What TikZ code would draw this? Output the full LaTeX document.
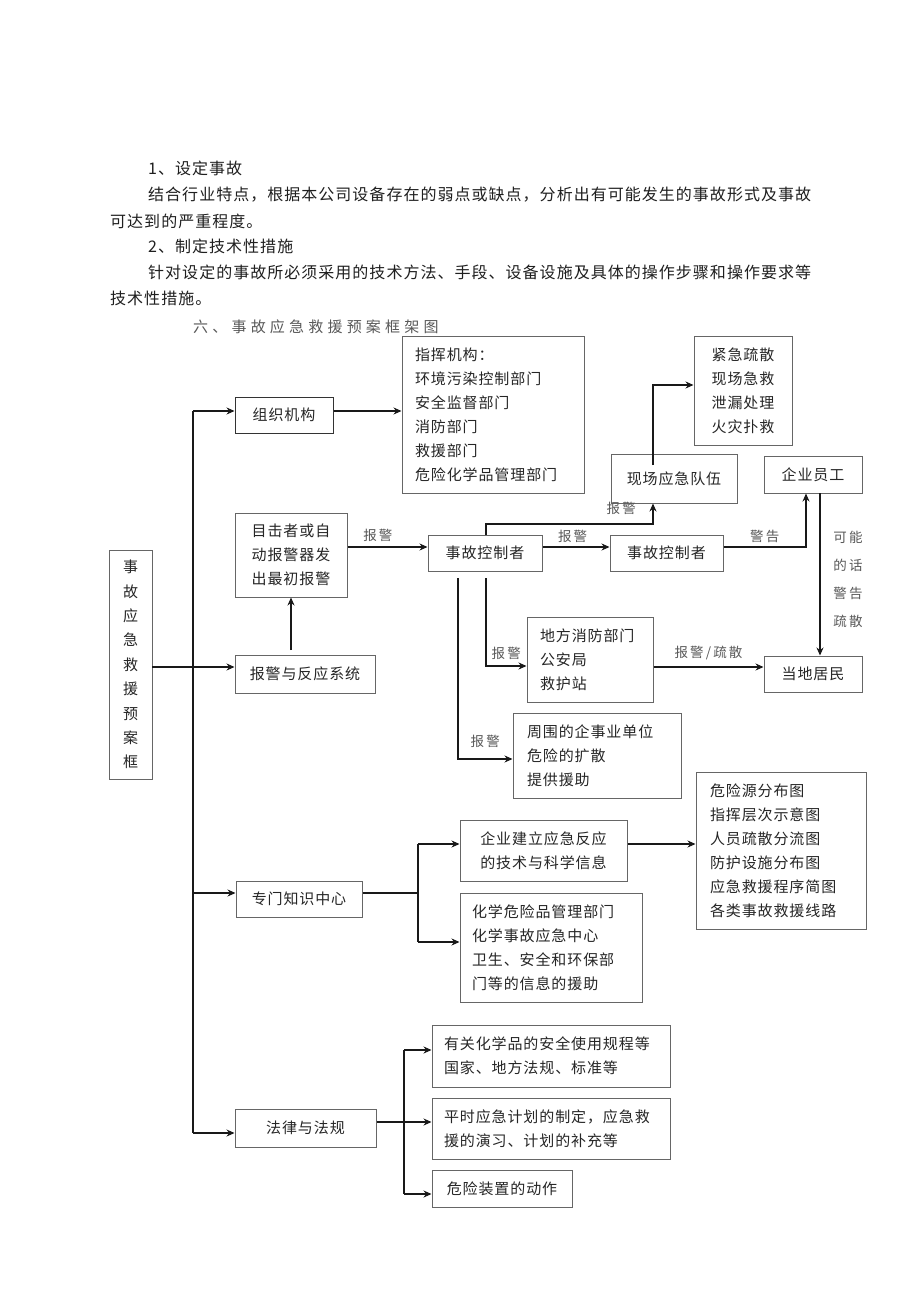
\documentclass[tikz,border=0pt]{standalone}
\usepackage{fontspec}
\setmainfont{Noto Sans CJK SC}
\usetikzlibrary{arrows.meta}
\newcommand\bodyfont{\fontsize{16}{20}\selectfont\addfontfeature{LetterSpace=6.4}}
\newcommand\titlefont{\fontsize{15}{20}\selectfont\addfontfeature{LetterSpace=28}}
\newcommand\dfont{\fontsize{15}{24}\selectfont\addfontfeature{LetterSpace=6}}
\newcommand\vfont{\fontsize{15}{24.4}\selectfont}
\newcommand\lfont{\fontsize{13.5}{28}\selectfont\addfontfeature{LetterSpace=16}}
\tikzset{
  box/.style={draw=black!60, line width=1pt, inner sep=0pt, text=black!85, font=\dfont},
  cbox/.style={box, align=center},
  lbox/.style={box, align=left},
  arr/.style={-{Stealth[length=8pt,width=7pt]}, line width=1.5pt, black!90},
  ln/.style={line width=1.5pt, black!90},
  lab/.style={font=\lfont, text=black!65, inner sep=0pt},
  para/.style={anchor=west, inner sep=0pt, text=black!88, font=\bodyfont},
}
\begin{document}
\begin{tikzpicture}[x=1pt,y=-1pt]
\useasboundingbox[fill=white] (0,0) rectangle (920,1301);

% body text
\node[para] (p1) at (148,168) {1、设定事故};
\node[para] (p2) at (148,195) {结合行业特点，根据本公司设备存在的弱点或缺点，分析出有可能发生的事故形式及事故};
\node[para] (p3) at (110,221) {可达到的严重程度。};
\node[para] (p4) at (148,246) {2、制定技术性措施};
\node[para] (p5) at (148,272) {针对设定的事故所必须采用的技术方法、手段、设备设施及具体的操作步骤和操作要求等};
\node[para] (p6) at (110,298) {技术性措施。};
\node[para, font=\titlefont, text=black!65] (title) at (193,327) {六、事故应急救援预案框架图};

% boxes
\node[cbox, minimum width=43, minimum height=229, font=\vfont] (frame) at (130.5,664.5) {事\\故\\应\\急\\救\\援\\预\\案\\框};
\node[cbox, draw=black!80, minimum width=98, minimum height=36] (zzjg) at (284,415) {组织机构};
\node[lbox, minimum width=182, minimum height=157, text width=156, inner xsep=13] (zhjg) at (493,414.5) {指挥机构：\\环境污染控制部门\\安全监督部门\\消防部门\\救援部门\\危险化学品管理部门};
\node[cbox, minimum width=98, minimum height=109] (jjss) at (743,390.5) {紧急疏散\\现场急救\\泄漏处理\\火灾扑救};
\node[cbox, minimum width=126, minimum height=49] (xcyj) at (674,478.5) {现场应急队伍};
\node[cbox, minimum width=98, minimum height=37] (qyyg) at (813,474.5) {企业员工};
\node[cbox, minimum width=112, minimum height=84] (mjz) at (291,555) {目击者或自\\动报警器发\\出最初报警};
\node[cbox, minimum width=114, minimum height=36] (skz1) at (485,553) {事故控制者};
\node[cbox, minimum width=113, minimum height=36] (skz2) at (666.5,553) {事故控制者};
\node[cbox, minimum width=140, minimum height=38] (bjfy) at (305,674) {报警与反应系统};
\node[lbox, minimum width=126, minimum height=85, text width=100, inner xsep=13] (dfxf) at (590,659.5) {地方消防部门\\公安局\\救护站};
\node[cbox, minimum width=98, minimum height=36] (ddjm) at (813,674) {当地居民};
\node[lbox, minimum width=168, minimum height=85, text width=140, inner xsep=14] (zw) at (597,755.5) {周围的企事业单位\\危险的扩散\\提供援助};
\node[cbox, minimum width=126, minimum height=36] (zmzs) at (299,899) {专门知识中心};
\node[cbox, minimum width=167, minimum height=61] (qyjl) at (543.5,850.5) {企业建立应急反应\\的技术与科学信息};
\node[lbox, minimum width=170, minimum height=157, text width=142, inner xsep=14] (wxy) at (781,850.5) {危险源分布图\\指挥层次示意图\\人员疏散分流图\\防护设施分布图\\应急救援程序简图\\各类事故救援线路};
\node[lbox, minimum width=182, minimum height=109, text width=158, inner xsep=12] (hxwx) at (551,947.5) {化学危险品管理部门\\化学事故应急中心\\卫生、安全和环保部\\门等的信息的援助};
\node[cbox, minimum width=141, minimum height=38] (flfg) at (305.5,1128) {法律与法规};
\node[lbox, minimum width=238, minimum height=62, text width=214, inner xsep=12] (ygxx) at (551,1056) {有关化学品的安全使用规程等\\国家、地方法规、标准等};
\node[lbox, minimum width=238, minimum height=61, text width=214, inner xsep=12] (psyj) at (551,1128.5) {平时应急计划的制定，应急救\\援的演习、计划的补充等};
\node[cbox, minimum width=140, minimum height=37] (wxzz) at (502,1188.5) {危险装置的动作};

% trunk
\coordinate (tTop) at (193,411);
\coordinate (tBot) at (193,1133);
\coordinate (tK) at (193,893);
\coordinate (fA) at (152,667);
\draw[ln] (tTop) -- (tBot);
\draw[arr] (tTop) -- (tTop -| zzjg.west);
\draw[arr] (tK) -- (tK -| zmzs.west);
\draw[arr] (tBot) -- (tBot -| flfg.west);
\draw[arr] (fA) -- (fA -| bjfy.west);
\draw[arr] (tTop -| zzjg.east) -- (tTop -| zhjg.west);

% alarm chain
\coordinate (bU) at (291,650);
\draw[arr] (bU) -- (bU |- mjz.south);
\coordinate (yA) at (0,547);
\draw[arr] (yA -| mjz.east) -- node[lab, pos=0.38, above=5pt] {报警} (yA -| skz1.west);
\draw[arr] (yA -| skz1.east) -- node[lab, pos=0.45, above=3.5pt] {报警} (yA -| skz2.west);
\coordinate (k1) at (486,524);
\coordinate (k2) at (653,524);
\draw[arr] (k1 |- skz1.north) -- (k1) -- node[lab, pos=0.81, above=8.5pt] {报警} (k2) -- (k2 |- xcyj.south);
\coordinate (q1) at (653,465);
\coordinate (q2) at (653,385);
\draw[arr] (q1) -- (q2) -- (q2 -| jjss.west);
\coordinate (w1) at (806,547);
\draw[arr] (yA -| skz2.east) -- node[lab, above=3.5pt] {警告} (w1) -- (w1 |- qyyg.south);
\coordinate (v1) at (820,493);
\draw[arr] (v1) -- (v1 |- ddjm.north);
\node[lab, align=center] (kn) at (848,579.5) {可能\\的话\\警告\\疏散};
\coordinate (d1) at (486,578);
\coordinate (d2) at (486,666);
\draw[arr] (d1) -- (d2) -- node[lab, above=5.5pt] {报警} (d2 -| dfxf.west);
\coordinate (e1) at (458,578);
\coordinate (e2) at (458,759);
\draw[arr] (e1) -- (e2) -- node[lab, above=10.5pt] {报警} (e2 -| zw.west);
\coordinate (f1) at (0,667);
\draw[arr] (f1 -| dfxf.east) -- node[lab, above=6.5pt] {报警/疏散} (f1 -| ddjm.west);

% knowledge centre
\coordinate (g0) at (418,893);
\coordinate (g1) at (418,844);
\coordinate (g2) at (418,942);
\draw[ln] (g0 -| zmzs.east) -- (g0);
\draw[ln] (g1) -- (g2);
\draw[arr] (g1) -- (g1 -| qyjl.west);
\draw[arr] (g2) -- (g2 -| hxwx.west);
\draw[arr] (g1 -| qyjl.east) -- (g1 -| wxy.west);

% laws
\coordinate (h0) at (404,1122);
\coordinate (h1) at (404,1050);
\coordinate (h2) at (404,1194);
\draw[ln] (h0 -| flfg.east) -- (h0);
\draw[ln] (h1) -- (h2);
\draw[arr] (h1) -- (h1 -| ygxx.west);
\draw[arr] (h0) -- (h0 -| psyj.west);
\draw[arr] (h2) -- (h2 -| wxzz.west);
\end{tikzpicture}
\end{document}
